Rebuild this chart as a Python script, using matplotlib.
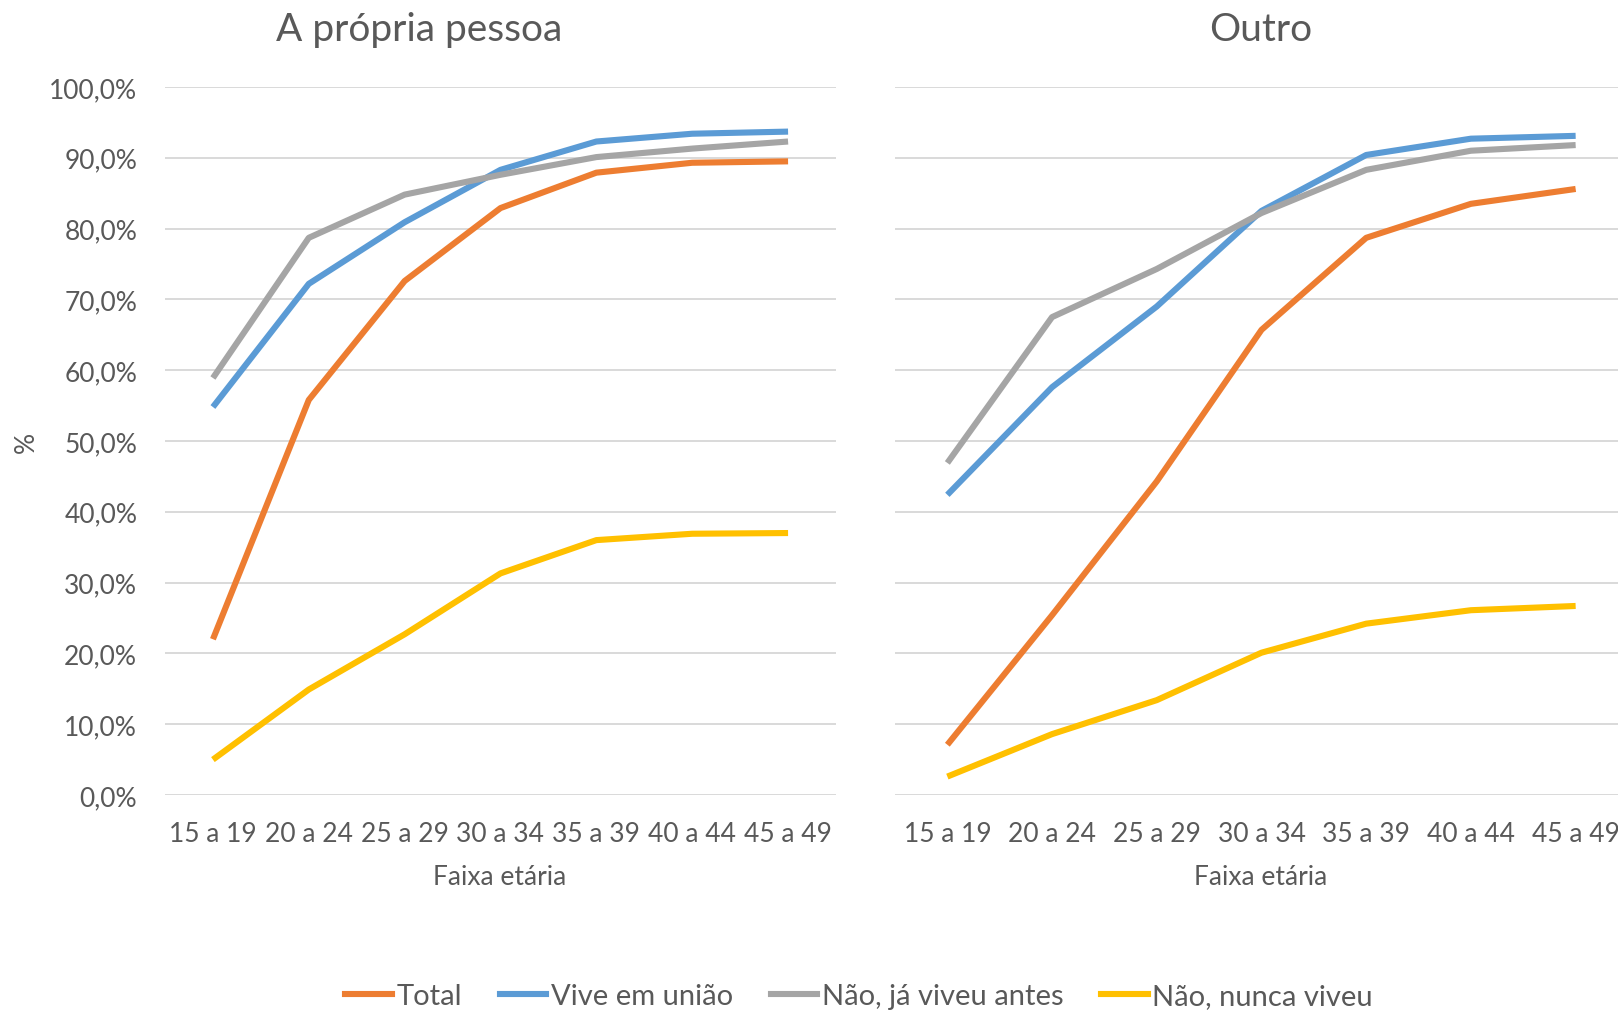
import numpy as np
import matplotlib
matplotlib.use("Agg")
import matplotlib.pyplot as plt
from matplotlib.ticker import MultipleLocator, FuncFormatter
from matplotlib.lines import Line2D

# data
faixas = ["15 a 19", "20 a 24", "25 a 29", "30 a 34", "35 a 39", "40 a 44", "45 a 49"]
series_names = ["Total", "Vive em união", "Não, já viveu antes", "Não, nunca viveu"]

propria_total = [22.0, 55.8, 72.6, 82.9, 87.9, 89.3, 89.5]
propria_uniao = [54.8, 72.2, 80.9, 88.3, 92.3, 93.4, 93.7]
propria_antes = [58.9, 78.7, 84.8, 87.6, 90.1, 91.3, 92.3]
propria_nunca = [5.0, 14.9, 22.7, 31.3, 36.0, 36.9, 37.0]

outro_total = [7.1, 25.4, 44.3, 65.7, 78.7, 83.5, 85.6]
outro_uniao = [42.4, 57.6, 69.0, 82.5, 90.4, 92.7, 93.1]
outro_antes = [46.9, 67.5, 74.3, 82.2, 88.3, 91.0, 91.8]
outro_nunca = [2.6, 8.6, 13.4, 20.1, 24.2, 26.1, 26.7]

# style
colors = ["#ED7D31", "#5B9BD5", "#A5A5A5", "#FFC000"]
text_color = "#595959"
grid_color = "#D9D9D9"
linewidth = 4.4
tick_labelsize = 19
plt.rcParams['font.family'] = ['Lato', 'DejaVu Sans']

fig = plt.figure(figsize=(16.18, 10.12), dpi=100)
W, H = 1618, 1012

def make_axes(left_px, right_px):
    return fig.add_axes([left_px / W, 1 - 796 / H, (right_px - left_px) / W, (796 - 88) / H])

ax1 = make_axes(165, 836)
ax2 = make_axes(895, 1628)

panels = [
    (ax1, [propria_total, propria_uniao, propria_antes, propria_nunca]),
    (ax2, [outro_total, outro_uniao, outro_antes, outro_nunca]),
]

x = np.arange(len(faixas))
for ax, data in panels:
    for vals, c, name in zip(data, colors, series_names):
        ax.plot(x, vals, color=c, linewidth=linewidth, solid_capstyle='butt',
                solid_joinstyle='round', label=name, zorder=3)
    ax.set_xlim(-0.5, len(faixas) - 0.5)
    ax.set_ylim(0, 100)
    ax.yaxis.set_major_locator(MultipleLocator(10))
    ax.yaxis.grid(True, color=grid_color, linewidth=1.4, zorder=0)
    ax.set_axisbelow(True)
    for s in ax.spines.values():
        s.set_visible(False)
    ax.set_xticks(x)
    ax.set_xticklabels(faixas)
    ax.tick_params(axis='both', length=0, labelsize=tick_labelsize, colors=text_color)
    ax.tick_params(axis='x', pad=19)
    ax.tick_params(axis='y', pad=20)
    ax.set_facecolor('none')

ax1.yaxis.set_major_formatter(FuncFormatter(lambda v, p: f"{v:.1f}%".replace(".", ",")))
ax2.set_yticklabels([])

fig.text(419 / W, 1 - 30 / H, "A própria pessoa", ha='center', va='center', fontsize=28, color=text_color)
fig.text(1261 / W, 1 - 30 / H, "Outro", ha='center', va='center', fontsize=28, color=text_color)
fig.text(500 / W, 1 - 878 / H, "Faixa etária", ha='center', va='center', fontsize=19, color=text_color)
fig.text(1261 / W, 1 - 878 / H, "Faixa etária", ha='center', va='center', fontsize=19, color=text_color)
fig.text(26 / W, 1 - 442 / H, "%", ha='center', va='center', rotation=90, fontsize=19, color=text_color)

handles = [Line2D([0], [0], color=c, linewidth=linewidth) for c in colors]
leg = fig.legend(handles, series_names, loc='center', bbox_to_anchor=(859 / W, 1 - 997 / H),
                 ncol=4, frameon=False, fontsize=21, handlelength=1.6, handletextpad=0.15,
                 columnspacing=1.3, labelcolor=text_color)

fig.savefig("out.png", dpi=100)
